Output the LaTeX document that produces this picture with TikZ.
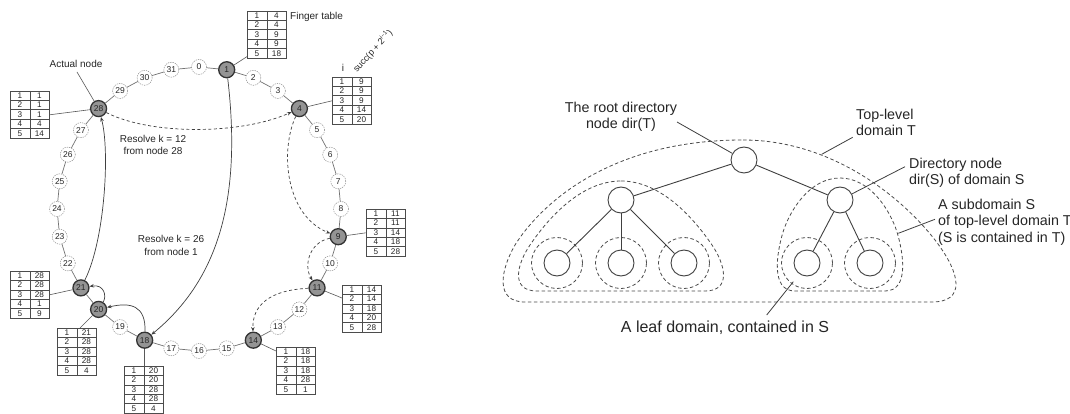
\documentclass[tikz,border=0pt]{standalone}
\usepackage{fontspec}
\setmainfont{Liberation Sans}
\usetikzlibrary{arrows.meta,calc}

% finger table: #1 name, #2 left x, #3 top y, #4 the five successor entries
\newcommand\fingertab[4]{%
  \node[ftab, anchor=north west] (#1) at (#2,#3) {};
  \draw[tabline] ({#2+20},#3) -- ({#2+20},{#3+47});
  \foreach \row in {1,...,4}
    \draw[tabline] (#2,{#3+\row*9.4}) -- ({#2+39},{#3+\row*9.4});
  \foreach \v [count=\row] in {#4} {
    \node[cell] (#1-i\row) at ({#2+10},{#3+(\row-0.5)*9.4}) {\row};
    \node[cell] (#1-s\row) at ({#2+29.5},{#3+(\row-0.5)*9.4}) {\v};
  }%
}

\begin{document}
\begin{tikzpicture}[x=1pt,y=-1pt,
  every node/.style={text=black!85},
  ringnode/.style={circle, draw=black!45, dash pattern=on 1.3pt off 1pt, line width=0.5pt,
    fill=white, minimum size=15pt, inner sep=0pt, font=\fontsize{8.5}{9}\selectfont},
  peer/.style={circle, draw=black!80, line width=1.3pt, fill=black!42, minimum size=16pt,
    inner sep=0pt, font=\fontsize{8.5}{9}\selectfont},
  ringline/.style={draw=black!55, line width=0.7pt},
  ftab/.style={draw=black!70, line width=0.6pt, minimum width=39pt, minimum height=47pt, inner sep=0pt},
  tabline/.style={draw=black!70, line width=0.6pt},
  cell/.style={inner sep=0pt, font=\fontsize{8.2}{8.5}\selectfont},
  tableg/.style={draw=black!65, line width=0.6pt},
  hop/.style={draw=black!75, line width=0.7pt, -{Stealth[length=4.5pt,width=3.5pt]}},
  lookup/.style={hop, dash pattern=on 3pt off 2.5pt},
  lbl/.style={font=\fontsize{10}{12.5}\selectfont, align=center, inner sep=0pt},
  dnode/.style={circle, draw=black!75, line width=0.9pt, fill=white, minimum size=26pt, inner sep=0pt},
  tree/.style={draw=black!75, line width=0.9pt},
  dom/.style={draw=black!70, line width=0.8pt, dash pattern=on 3.5pt off 2.5pt},
  leafdom/.style={circle, dom, minimum size=51pt, inner sep=0pt},
  big/.style={font=\fontsize{14.3}{16.3}\selectfont, inner sep=0pt},
  leader/.style={draw=black!75, line width=0.8pt}
]
\useasboundingbox[fill=white] (0,0) rectangle (1070,414);

% ---------------- Chord ring ----------------
\foreach \k in {0,...,31}{
  \pgfmathsetmacro\ang{-90+11.25*\k}
  \pgfmathsetmacro\px{199+142*cos(\ang)}
  \pgfmathsetmacro\py{209+142*sin(\ang)}
  \coordinate (p\k) at (\px,\py);
}
\foreach \k in {0,2,3,5,6,7,8,10,12,13,15,16,17,19,22,23,24,25,26,27,29,30,31}
  \node[ringnode] (n\k) at (p\k) {\k};
\foreach \k in {1,4,9,11,14,18,20,21,28}
  \node[peer] (n\k) at (p\k) {\k};
\foreach \k in {0,...,31}{
  \pgfmathtruncatemacro\j{mod(\k+1,32)}
  \draw[ringline] (n\k) -- (n\j);
}

% finger tables
\fingertab{t1}{247}{11}{4,4,9,9,18}
\fingertab{t4}{332}{77}{9,9,9,14,20}
\fingertab{t9}{366}{209}{11,11,14,18,28}
\fingertab{t11}{342}{285}{14,14,18,20,28}
\fingertab{t14}{276}{347}{18,18,18,28,1}
\fingertab{t18}{124}{366}{20,20,28,28,4}
\fingertab{t20}{57}{328}{21,28,28,28,4}
\fingertab{t21}{10}{271}{28,28,28,1,9}
\fingertab{t28}{10}{91}{1,1,1,4,14}

\draw[tableg] (n1) -- ([yshift=2pt]t1.south west);
\draw[tableg] (n4) -- (t4.west);
\draw[tableg] (n9) -- (t9.west);
\draw[tableg] (n11) -- ([yshift=-13pt]t11.north west);
\draw[tableg] (n14) -- ([yshift=-4pt]t14.north west);
\draw[tableg] (n18) -- (n18 |- t18.north);
\draw[tableg] (n20) -- ([xshift=23pt]t20.north west);
\draw[tableg] (n21) -- (t21.east);
\draw[tableg] (n28) -- (t28.east);

% labels
\node[lbl, anchor=west] (ftlabel) at (290,17) {Finger table};
\node[lbl] (ilabel) at (343,68) {i};
\node[lbl, font=\fontsize{9}{10}\selectfont, rotate=48, anchor=base west] (succlabel) at (357,73)
  {succ(p + 2\textsuperscript{i−1})};
\node[lbl] (actual) at (76,64) {Actual node};
\coordinate (actualtail) at (77,72);
\draw[tableg] (actualtail) -- (n28);
\node[lbl] (res12) at (153,145) {Resolve k = 12\\from node 28};
\node[lbl] (res26) at (171,245.5) {Resolve k = 26\\from node 1};

% lookups
\draw[hop] (n1) .. controls (242,200) and (218,280) .. (n18);
\draw[hop] (n21) .. controls (105,240) and (110,150) .. (n28);
\draw[hop] (n20) .. controls (107,296) and (104,284) .. (n21);
\draw[hop] (n18) .. controls (146,305) and (130,302) .. (n20);
\draw[lookup] (n28) .. controls (150,135) and (240,135) .. (n4);
\draw[lookup] (n4) .. controls (280,150) and (285,215) .. (n9);
\draw[lookup] (n9) .. controls (310,242) and (303,265) .. (n11);
\draw[lookup] (n11) .. controls (270,290) and (252,305) .. (n14);

% ---------------- Domain hierarchy ----------------
% top-level domain T
\draw[dom] (743,140) .. controls (830,140) and (900,195) .. (935,240)
  .. controls (962,275) and (965,302) .. (932,302) -- (525,302)
  .. controls (495,302) and (500,271) .. (515,245)
  .. controls (535,213) and (600,140) .. (743,140) -- cycle;
% left subdomain
\draw[dom] (621,181) .. controls (662,181) and (695,220) .. (712,245)
  .. controls (725,264) and (732,291) .. (705,291) -- (537,291)
  .. controls (510,291) and (517,264) .. (530,245)
  .. controls (547,220) and (580,181) .. (621,181) -- cycle;
% right subdomain S
\draw[dom] (840,178) .. controls (870,178) and (890,210) .. (897,232)
  .. controls (903,252) and (910,291) .. (885,291) -- (795,291)
  .. controls (770,291) and (777,252) .. (783,232)
  .. controls (790,210) and (810,178) .. (840,178) -- cycle;

\node[dnode] (r) at (744,160) {};
\node[dnode] (a) at (621,200) {};
\node[dnode] (b) at (840,200) {};
\node[dnode] (l1) at (557,263) {};
\node[dnode] (l2) at (621,263) {};
\node[dnode] (l3) at (684,263) {};
\node[dnode] (l4) at (807,263) {};
\node[dnode] (l5) at (870,263) {};
\foreach \l in {1,...,5} \node[leafdom] (d\l) at (l\l) {};

\draw[tree] (r) -- (a);
\draw[tree] (r) -- (b);
\draw[tree] (a) -- (l1);
\draw[tree] (a) -- (l2);
\draw[tree] (a) -- (l3);
\draw[tree] (b) -- (l4);
\draw[tree] (b) -- (l5);

% labels and leaders
\node[big, align=center, anchor=north] (rootlbl) at (621,101.5) {The root directory\\node dir(T)};
\coordinate (roottail) at (677,122);
\draw[leader] (roottail) -- (r);

\node[big, align=left, anchor=north west] (toplbl) at (856,109) {Top-level\\domain T};
\coordinate (toptail) at (852.7,137.3);
\coordinate (tedge) at (821.7,154.3);
\draw[leader] (toptail) -- (tedge);

\node[big, align=left, anchor=north west] (dirlbl) at (909,158) {Directory node\\dir(S) of domain S};
\coordinate (dirtail) at (905,166.7);
\draw[leader] (dirtail) -- (b);

\node[big, align=left, anchor=north west] (sublbl) at (938,199) {A subdomain S\\of top-level domain T\\(S is contained in T)};
\coordinate (subtail) at (935,219.3);
\coordinate (sedge) at (898.3,233.3);
\draw[leader] (subtail) -- (sedge);

\node[big, font=\fontsize{16}{18}\selectfont] (leaflbl) at (725,328) {A leaf domain, contained in S};
\coordinate (leaftail) at (766.7,315);
\coordinate (leafedge) at (793.3,281.7);
\draw[leader] (leaftail) -- (leafedge);
\end{tikzpicture}
\end{document}
